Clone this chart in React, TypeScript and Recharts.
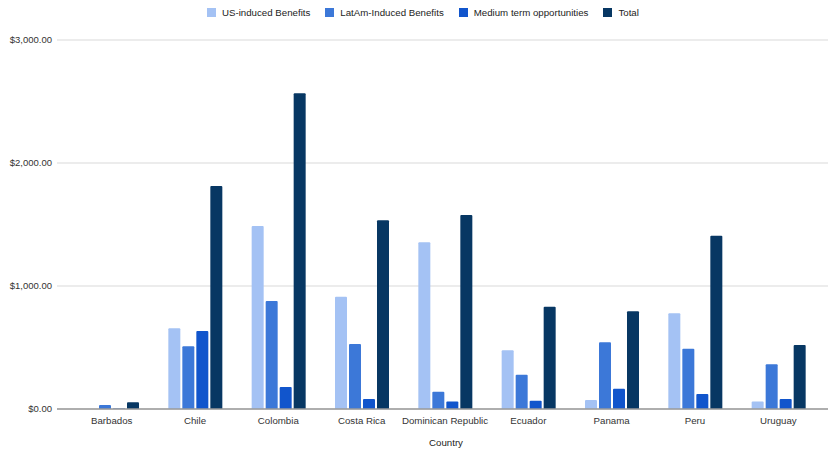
import React from "react";
import { BarChart, Bar, XAxis, YAxis, CartesianGrid } from "recharts";

const countries = [
  "Barbados",
  "Chile",
  "Colombia",
  "Costa Rica",
  "Dominican Republic",
  "Ecuador",
  "Panama",
  "Peru",
  "Uruguay",
];
const usInduced = [0, 656, 1488, 913, 1355, 477, 73, 778, 60];
const latamInduced = [33, 510, 878, 528, 141, 279, 542, 490, 363];
const mediumTerm = [4, 634, 179, 81, 60, 68, 165, 122, 81];
const total = [55, 1813, 2567, 1534, 1578, 832, 794, 1409, 520];
const yTicks = [0, 1000, 2000, 3000];
const xTitle = "Country";

const series = [
  { key: "us", name: "US-induced Benefits", color: "#a4c2f4" },
  { key: "latam", name: "LatAm-Induced Benefits", color: "#3c78d8" },
  { key: "medium", name: "Medium term opportunities", color: "#1155cc" },
  { key: "total", name: "Total", color: "#073763" },
];

const data = countries.map((country, i) => ({
  country,
  us: usInduced[i],
  latam: latamInduced[i],
  medium: mediumTerm[i],
  total: total[i],
}));

const font = "'Liberation Sans', Arial, sans-serif";

const money = (v: number) =>
  "$" + v.toLocaleString("en-US", { minimumFractionDigits: 2, maximumFractionDigits: 2 });

export default function App() {
  return (
    <div style={{ position: "absolute", top: 0, left: 0, width: 828, height: 453, overflow: "hidden", background: "#fff", fontFamily: font }}>
      <div
        style={{
          position: "absolute",
          top: 7,
          left: 207,
          display: "flex",
          alignItems: "center",
          fontSize: 9.7,
          color: "#222",
          whiteSpace: "nowrap",
        }}
      >
        {series.map((s) => (
          <div key={s.key} style={{ display: "flex", alignItems: "center", marginRight: 15 }}>
            <span style={{ width: 9, height: 9, background: s.color, display: "inline-block", marginRight: 6 }} />
            <span>{s.name}</span>
          </div>
        ))}
      </div>
      <BarChart
        width={828}
        height={453}
        data={data}
        margin={{ top: 40, right: 0, bottom: 0, left: 0 }}
        barSize={12}
        barGap={2}
      >
        <CartesianGrid horizontal vertical={false} stroke="#d9d9d9" />
        <XAxis
          dataKey="country"
          height={44}
          padding={{ left: 13, right: 8 }}
          tickLine={false}
          axisLine={{ stroke: "#9a9a9a", strokeWidth: 1.5 }}
          tick={{ fontSize: 9.7, fill: "#333", fontFamily: font }}
          tickMargin={2}
          interval={0}
        />
        <YAxis
          width={57}
          domain={[0, 3000]}
          ticks={yTicks}
          tickFormatter={money}
          axisLine={false}
          tickLine={false}
          tickSize={5}
          tickMargin={0}
          tick={{ fontSize: 9.5, fill: "#333", fontFamily: font }}
        />
        {series.map((s) => (
          <Bar key={s.key} dataKey={s.key} name={s.name} fill={s.color} radius={[1, 1, 0, 0]} isAnimationActive={false} />
        ))}
      </BarChart>
      <div
        style={{
          position: "absolute",
          top: 437,
          left: 446,
          transform: "translateX(-50%)",
          fontSize: 9.7,
          lineHeight: "12px",
          color: "#222",
          whiteSpace: "nowrap",
        }}
      >
        {xTitle}
      </div>
    </div>
  );
}
